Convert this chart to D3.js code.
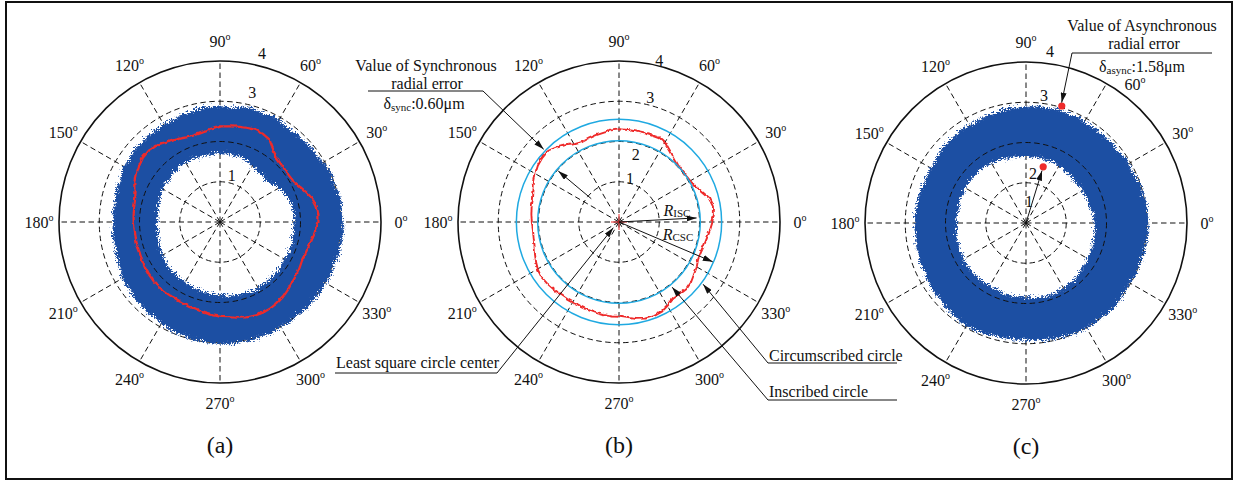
<!DOCTYPE html>
<html>
<head>
<meta charset="utf-8">
<script src="https://cdn.jsdelivr.net/npm/d3@7"></script>
<style>
body { margin: 0; background: #fff; }
text { font-family: "Liberation Serif", "Times New Roman", serif; fill: #111; }
</style>
</head>
<body>
<div id="chart"></div>
<script>
// sampling angles (deg, counter-clockwise from 0º)
var angles = [0,5,10,15,20,25,30,35,40,45,50,55,60,65,70,75,80,85,90,95,100,105,110,115,
  120,125,130,135,140,145,150,155,160,165,170,175,180,185,190,195,200,205,210,215,220,225,230,235,
  240,245,250,255,260,265,270,275,280,285,290,295,300,305,310,315,320,325,330,335,340,345,350,355];
var spokeAngles = [0,30,60,90,120,150,180,210,240,270,300,330];
var ringTicks = [1,2,3,4];

// (a) total radial error band + synchronous mean
var aOuter = [3.00,2.96,3.02,2.97,2.94,2.99,2.95,2.90,2.93,2.88,2.92,2.89,2.93,2.96,2.92,2.97,2.95,2.90,
  2.94,2.91,2.93,2.88,2.90,2.86,2.88,2.84,2.87,2.83,2.86,2.82,2.84,2.78,2.76,2.73,2.70,2.72,
  2.70,2.73,2.71,2.72,2.76,2.78,2.83,2.81,2.86,2.84,2.88,2.86,2.90,2.93,2.91,2.96,2.93,2.97,
  2.96,2.99,2.95,2.97,2.94,2.96,2.92,2.95,2.93,2.96,2.94,2.97,2.95,2.98,2.96,2.99,2.97,3.01];
var aInner = [1.78,1.82,1.79,1.81,1.77,1.74,1.72,1.65,1.58,1.55,1.57,1.59,1.61,1.66,1.70,1.75,1.72,1.78,
  1.76,1.79,1.74,1.77,1.75,1.79,1.77,1.80,1.76,1.77,1.73,1.76,1.72,1.70,1.68,1.67,1.64,1.62,
  1.63,1.61,1.64,1.63,1.66,1.67,1.69,1.68,1.71,1.70,1.72,1.69,1.71,1.74,1.73,1.76,1.74,1.78,
  1.77,1.80,1.78,1.81,1.80,1.83,1.81,1.82,1.79,1.81,1.78,1.80,1.78,1.81,1.79,1.82,1.78,1.80];
var aSync = [2.42,2.43,2.41,2.35,2.25,2.15,2.08,2.06,2.07,2.09,2.13,2.25,2.40,2.45,2.47,2.45,2.43,2.41,
  2.40,2.34,2.30,2.28,2.28,2.32,2.37,2.42,2.50,2.54,2.53,2.48,2.42,2.35,2.26,2.21,2.19,2.18,
  2.17,2.15,2.15,2.16,2.15,2.17,2.19,2.20,2.21,2.21,2.21,2.20,2.20,2.21,2.22,2.24,2.27,2.30,
  2.33,2.35,2.39,2.43,2.45,2.46,2.45,2.43,2.40,2.35,2.30,2.28,2.25,2.22,2.24,2.26,2.30,2.36];

// (b) synchronous error with inscribed / circumscribed circles
var bSync = [2.29,2.34,2.37,2.32,2.20,2.10,2.04,2.02,2.02,2.04,2.10,2.18,2.28,2.33,2.32,2.31,2.31,2.32,
  2.33,2.31,2.28,2.26,2.24,2.22,2.26,2.36,2.45,2.53,2.52,2.49,2.43,2.36,2.29,2.24,2.23,2.21,
  2.19,2.17,2.18,2.20,2.25,2.30,2.35,2.37,2.35,2.33,2.31,2.30,2.29,2.29,2.30,2.31,2.32,2.33,
  2.33,2.37,2.42,2.46,2.46,2.44,2.37,2.30,2.31,2.33,2.30,2.24,2.20,2.14,2.14,2.16,2.19,2.24];
var bCircles = [2.02, 2.55];

// (c) asynchronous error band
var cOuter = [2.98,2.96,2.99,2.94,2.97,2.92,2.91,2.94,2.89,2.92,2.90,2.93,2.91,2.95,2.93,2.97,2.94,2.96,
  2.95,2.92,2.94,2.90,2.91,2.88,2.87,2.89,2.86,2.88,2.84,2.82,2.80,2.81,2.79,2.82,2.80,2.83,
  2.82,2.80,2.83,2.81,2.84,2.82,2.85,2.87,2.85,2.89,2.90,2.92,2.94,2.91,2.89,2.87,2.86,2.85,
  2.84,2.86,2.88,2.90,2.92,2.91,2.93,2.92,2.94,2.95,2.93,2.91,2.90,2.92,2.94,2.96,2.95,2.98];
var cInner = [1.66,1.63,1.65,1.61,1.60,1.62,1.59,1.61,1.58,1.60,1.62,1.64,1.66,1.68,1.70,1.67,1.72,1.69,
  1.72,1.70,1.74,1.73,1.76,1.77,1.79,1.81,1.83,1.82,1.84,1.82,1.83,1.81,1.82,1.79,1.78,1.80,
  1.77,1.79,1.81,1.80,1.82,1.80,1.83,1.81,1.82,1.80,1.82,1.79,1.81,1.79,1.81,1.80,1.81,1.79,
  1.80,1.82,1.81,1.83,1.82,1.79,1.80,1.77,1.78,1.75,1.73,1.71,1.69,1.68,1.69,1.66,1.67,1.65];
var cPeaks = [{ angle: 73, r: 3.04 }, { angle: 73, r: 1.46 }];

var width = 1238, height = 481,
  blue = "#1e4fa3", red = "#ee2b2b", cyan = "#1fa9e1",
  rScale = d3.scaleLinear().domain([0, 4]).range([0, 161]),
  aScale = d3.scaleLinear().domain([0, 360]).range([Math.PI / 2, Math.PI / 2 - 2 * Math.PI]);

var svg = d3.select("#chart").append("svg")
  .attr("width", width).attr("height", height);

var defs = svg.append("defs");
var marker = defs.append("marker")
  .attr("id", "arr").attr("viewBox", "0 0 10 10")
  .attr("refX", 10).attr("refY", 5)
  .attr("markerWidth", 10).attr("markerHeight", 6)
  .attr("markerUnits", "userSpaceOnUse")
  .attr("preserveAspectRatio", "none")
  .attr("orient", "auto");
marker.append("path").attr("d", "M0,0L10,5L0,10z").attr("fill", "#111");

// rough edges for the dense measured traces
function roughFilter(id, freq, scale) {
  var f = defs.append("filter").attr("id", id)
    .attr("x", "-10%").attr("y", "-10%").attr("width", "120%").attr("height", "120%");
  f.append("feTurbulence").attr("type", "turbulence")
    .attr("baseFrequency", freq).attr("numOctaves", 2).attr("seed", 3).attr("result", "n");
  f.append("feDisplacementMap").attr("in", "SourceGraphic").attr("in2", "n")
    .attr("scale", scale).attr("xChannelSelector", "R").attr("yChannelSelector", "G");
}
roughFilter("rough", 0.45, 9);
roughFilter("wiggle", 0.15, 2.5);

svg.append("rect")
  .attr("x", 6).attr("y", 2).attr("width", 1226).attr("height", 477)
  .attr("fill", "none").attr("stroke", "#111").attr("stroke-width", 2);

var panels = {
  a: { cx: 220, cy: 222, letter: "(a)", tickAngle: 76, tickOff: [8, 8, 13, 13] },
  b: { cx: 619, cy: 222, letter: "(b)", tickAngle: 76, tickOff: [5, -11, 8, 5] },
  c: { cx: 1026, cy: 223, letter: "(c)", tickAngle: 82, tickOff: [-19, -30, 8, 12] }
};

function xy(deg, v) {
  var a = aScale(deg), r = rScale(v);
  return [r * Math.sin(a), -r * Math.cos(a)];
}
function P(p, deg, v) {
  var q = xy(deg, v);
  return [panels[p].cx + q[0], panels[p].cy + q[1]];
}

var closedLine = d3.lineRadial()
  .angle(function (d, i) { return aScale(angles[i]); })
  .radius(function (d) { return rScale(d); })
  .curve(d3.curveLinearClosed);

function grid(g, p) {
  // radial tick labels
  g.selectAll(".rt").data(ringTicks).enter().append("text")
    .attr("class", "rt")
    .attr("x", function (d, i) { return xy(p.tickAngle, d + p.tickOff[i] / 40.25)[0]; })
    .attr("y", function (d, i) { return xy(p.tickAngle, d + p.tickOff[i] / 40.25)[1]; })
    .attr("text-anchor", "middle").attr("dominant-baseline", "central")
    .attr("font-size", 16).text(function (d) { return d; });

  g.selectAll(".ring").data([1, 2, 3]).enter().append("circle")
    .attr("class", "ring").attr("r", function (d) { return rScale(d); })
    .attr("fill", "none").attr("stroke", "#111").attr("stroke-width", 1)
    .attr("stroke-dasharray", "5.5,3.5");

  g.selectAll(".spoke").data(spokeAngles).enter().append("line")
    .attr("class", "spoke")
    .attr("x1", 0).attr("y1", 0)
    .attr("x2", function (d) { return xy(d, 4)[0]; })
    .attr("y2", function (d) { return xy(d, 4)[1]; })
    .attr("stroke", "#111").attr("stroke-width", 1)
    .attr("stroke-dasharray", "5.5,3.5");

  g.append("circle").attr("r", rScale(4))
    .attr("fill", "none").attr("stroke", "#111").attr("stroke-width", 1.6);

  var lab = g.selectAll(".al").data(spokeAngles).enter().append("text")
    .attr("class", "al")
    .attr("x", function (d) { return p.labelPos(d)[0]; })
    .attr("y", function (d) { return p.labelPos(d)[1]; })
    .attr("text-anchor", "middle").attr("dominant-baseline", "central")
    .attr("font-size", 16);
  lab.append("tspan").text(function (d) { return d; });
  lab.append("tspan").attr("font-size", 10).attr("dy", -5).text("o");

  g.append("text").attr("x", 0).attr("y", 223)
    .attr("text-anchor", "middle").attr("dominant-baseline", "central")
    .attr("font-size", 24).text(p.letter);
}

function band(g, outer, inner) {
  g.append("path")
    .attr("d", closedLine(outer) + closedLine(inner))
    .attr("fill", blue).attr("fill-rule", "evenodd")
    .attr("stroke", blue).attr("stroke-width", 0.8)
    .attr("filter", "url(#rough)");
  g.append("circle").attr("r", rScale(2))
    .attr("fill", "none").attr("stroke", "#111").attr("stroke-width", 1)
    .attr("stroke-dasharray", "5.5,3.5");
}

function syncLine(g, data, w) {
  g.append("path").attr("d", closedLine(data))
    .attr("fill", "none").attr("stroke", red).attr("stroke-width", w)
    .attr("stroke-linejoin", "round")
    .attr("filter", "url(#wiggle)");
}

Object.keys(panels).forEach(function (k) {
  var p = panels[k];
  p.labelPos = function (d) {
    if (k === "c" && d === 60) return xy(52, 177 / 40.25);
    return xy(d, 181 / 40.25);
  };
  p.g = svg.append("g").attr("transform", "translate(" + p.cx + "," + p.cy + ")");
  grid(p.g, p);
});

// (a)
band(panels.a.g, aOuter, aInner);
syncLine(panels.a.g, aSync, 2.2);

// (b)
var gb = panels.b.g;
syncLine(gb, bSync, 1.9);
gb.selectAll(".cc").data(bCircles).enter().append("circle")
  .attr("r", function (d) { return rScale(d); })
  .attr("fill", "none").attr("stroke", cyan).attr("stroke-width", 1.5);
gb.append("path").attr("d", "M-8,0H8M0,-8V8")
  .attr("stroke", red).attr("stroke-width", 1);

// (c)
var gc = panels.c.g;
band(gc, cOuter, cInner);
gc.selectAll(".pk").data(cPeaks).enter().append("circle")
  .attr("cx", function (d) { return xy(d.angle, d.r)[0]; })
  .attr("cy", function (d) { return xy(d.angle, d.r)[1]; })
  .attr("r", 3.6).attr("fill", red);

// annotations
var ann = svg.append("g");
function arrow(points) {
  ann.append("path").attr("d", d3.line()(points))
    .attr("fill", "none").attr("stroke", "#111").attr("stroke-width", 1)
    .attr("marker-end", "url(#arr)");
}
function label(x, y, anchor, txt) {
  return ann.append("text").attr("x", x).attr("y", y)
    .attr("text-anchor", anchor).attr("dominant-baseline", "central")
    .attr("font-size", 16).text(txt);
}
function delta(x, y, sub, val) {
  var t = ann.append("text").attr("x", x).attr("y", y)
    .attr("text-anchor", "middle").attr("dominant-baseline", "central")
    .attr("font-size", 16);
  t.append("tspan").text("δ");
  t.append("tspan").attr("font-size", 11).attr("dy", 4).text(sub);
  t.append("tspan").attr("dy", -4).text(val);
}
function rLabel(x, y, sub) {
  var t = ann.append("text").attr("x", x).attr("y", y)
    .attr("text-anchor", "middle").attr("dominant-baseline", "central")
    .attr("font-size", 16);
  t.append("tspan").attr("font-style", "italic").text("R");
  t.append("tspan").attr("font-size", 11).attr("dy", 3).text(sub);
}

var cb = [panels.b.cx, panels.b.cy];
label(426, 65, "middle", "Value of Synchronous");
label(427, 83, "middle", "radial error");
delta(424, 103, "sync", ":0.60μm");
arrow([[368, 91], [483, 91], P("b", 136, 2.6)]);
arrow([P("b", 140, 0.9), P("b", 140, 1.97)]);
arrow([cb, P("b", 3, 1.93)]);
arrow([cb, P("b", -23, 2.53)]);
rLabel(677, 210, "ISC");
rLabel(678, 234, "CSC");

label(336, 362, "start", "Least square circle center");
arrow([[335, 373], [497, 373], P("b", 225, 0.2)]);
label(769, 355, "start", "Circumscribed circle");
arrow([[897, 363], [768, 363], P("b", -36.5, 2.6)]);
label(769, 391, "start", "Inscribed circle");
arrow([[897, 400], [768, 400], P("b", -50.8, 2.09)]);

label(1142, 25, "middle", "Value of Asynchronous");
label(1144, 43, "middle", "radial error");
delta(1142, 66, "async", ":1.58μm");
arrow([[1212, 53], [1072, 53], P("c", 73.5, 3.12)]);
arrow([[panels.c.cx, panels.c.cy], P("c", 73, 1.36)]);
</script>
</body>
</html>
